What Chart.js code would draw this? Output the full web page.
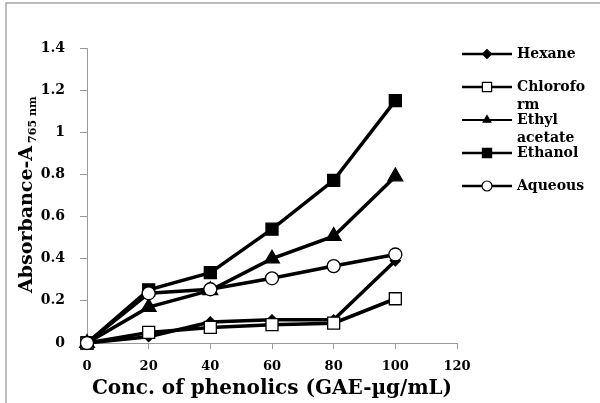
<!DOCTYPE html>
<html>
<head>
<meta charset="utf-8">
<script src="https://cdn.jsdelivr.net/npm/chart.js@4.4.0/dist/chart.umd.min.js"></script>
<style>
  html, body { margin: 0; padding: 0; background: #fff; }
</style>
</head>
<body>
<canvas id="phenolChart" width="600" height="403"></canvas>
<script>
// Conc. of phenolics (GAE-µg/mL) vs absorbance at 765 nm
const concentrations = [0, 20, 40, 60, 80, 100];
const hexane       = [0, 0.03, 0.10, 0.11, 0.11, 0.39];
const chloroform   = [0, 0.05, 0.074, 0.087, 0.094, 0.21];
const ethylAcetate = [0, 0.17, 0.25, 0.40, 0.507, 0.79];
const ethanol      = [0, 0.252, 0.334, 0.54, 0.772, 1.15];
const aqueous      = [0, 0.236, 0.255, 0.307, 0.365, 0.42];

const seriesNames = ['Hexane', 'Chloroform', 'Ethyl acetate', 'Ethanol', 'Aqueous'];
const legendLabels = [['Hexane'], ['Chlorofo', 'rm'], ['Ethyl', 'acetate'], ['Ethanol'], ['Aqueous']];
const xTicks = [0, 20, 40, 60, 80, 100, 120];
const yTicks = [0, 0.2, 0.4, 0.6, 0.8, 1, 1.2, 1.4];

const FONT = '"DejaVu Serif", "Liberation Serif", serif';
const AXIS_GREY = '#9a9a9a';

function points(values) {
    return values.map((v, i) => ({ x: concentrations[i], y: v }));
}

// marker look per series, also reused by the legend
const markers = [
    { style: 'rectRot',  radius: 5,   fill: '#000', legendRadius: 4.5, lineWidth: 3.5, legendLine: 2.5 },
    { style: 'rect',     radius: 8.5, fill: '#fff', legendRadius: 6.5, lineWidth: 3.5, legendLine: 2.5 },
    { style: 'triangle', radius: 8.5, fill: '#000', legendRadius: 4.5, lineWidth: 3.5, legendLine: 1.8 },
    { style: 'rect',     radius: 8.5, fill: '#000', legendRadius: 6.5, lineWidth: 3.5, legendLine: 2.5 },
    { style: 'circle',   radius: 6.5, fill: '#fff', legendRadius: 5,   lineWidth: 3.5, legendLine: 2.5 }
];
const drawOrder = [2, 1, 3, 4, 0];
const seriesValues = [hexane, chloroform, ethylAcetate, ethanol, aqueous];

const datasets = seriesNames.map((name, i) => ({
    label: name,
    data: points(seriesValues[i]),
    borderColor: '#000',
    borderWidth: markers[i].lineWidth,
    pointStyle: markers[i].style,
    pointRadius: markers[i].radius,
    pointHoverRadius: markers[i].radius,
    pointBackgroundColor: markers[i].fill,
    pointBorderColor: '#000',
    pointBorderWidth: 1.3,
    tension: 0,
    clip: false,
    order: drawOrder[i]
}));

// rotated y title with the 765 nm subscript, plus the frame edges
const yTitlePlugin = {
    id: 'yTitle',
    afterDraw(chart) {
        const ctx = chart.ctx;
        ctx.save();
        ctx.strokeStyle = '#a8a8a8';
        ctx.lineWidth = 1.5;
        ctx.beginPath();
        ctx.moveTo(6, 403);
        ctx.lineTo(6, 3);
        ctx.lineTo(600, 3);
        ctx.stroke();

        ctx.translate(27, 293);
        ctx.rotate(-Math.PI / 2);
        ctx.fillStyle = '#000';
        ctx.textBaseline = 'middle';
        ctx.textAlign = 'left';
        ctx.font = 'bold 19px ' + FONT;
        const main = 'Absorbance-A';
        ctx.fillText(main, 0, 0);
        const w = ctx.measureText(main).width;
        ctx.font = 'bold 11px ' + FONT;
        ctx.fillText('765 nm', w + 3, 6);
        ctx.restore();
    }
};

// legend to the right of the plot
const sideLegend = {
    id: 'sideLegend',
    afterDraw(chart) {
        const ctx = chart.ctx;
        const x0 = 462, x1 = 512, tx = 517;
        ctx.save();
        legendLabels.forEach((lines, i) => {
            const y = 54 + i * 33;
            const m = markers[i];
            ctx.strokeStyle = '#000';
            ctx.lineWidth = m.legendLine;
            ctx.beginPath();
            ctx.moveTo(x0, y);
            ctx.lineTo(x1, y);
            ctx.stroke();
            ctx.fillStyle = m.fill;
            ctx.lineWidth = 1.2;
            Chart.helpers.drawPoint(ctx, {
                pointStyle: m.style,
                radius: m.legendRadius,
                rotation: 0,
                borderWidth: 1.2
            }, (x0 + x1) / 2, y);
            ctx.fillStyle = '#000';
            ctx.font = 'bold 14px ' + FONT;
            ctx.textBaseline = 'middle';
            ctx.textAlign = 'left';
            lines.forEach((t, k) => ctx.fillText(t, tx, y + k * 18));
        });
        ctx.restore();
    }
};

new Chart(document.getElementById('phenolChart'), {
    type: 'scatter',
    data: { datasets: datasets },
    options: {
        responsive: false,
        animation: false,
        showLine: true,
        layout: { padding: { left: 0, right: 143, top: 48, bottom: 0 } },
        plugins: {
            legend: { display: false },
            tooltip: { enabled: false }
        },
        scales: {
            x: {
                type: 'linear',
                min: 0,
                max: 120,
                afterFit(scale) { scale.height = 60; },
                afterBuildTicks(scale) { scale.ticks = xTicks.map(v => ({ value: v })); },
                border: { display: true, color: AXIS_GREY, width: 1 },
                grid: { drawOnChartArea: false, drawTicks: true, tickLength: 6, color: AXIS_GREY },
                ticks: {
                    padding: 10,
                    color: '#000',
                    font: { family: FONT, size: 13, weight: 'bold' }
                },
                title: {
                    display: true,
                    text: 'Conc. of phenolics (GAE-µg/mL)',
                    color: '#000',
                    padding: { top: 0, bottom: 2 },
                    font: { family: FONT, size: 20, weight: 'bold' }
                }
            },
            y: {
                type: 'linear',
                min: 0,
                max: 1.4,
                afterFit(scale) { scale.width = 87; },
                afterBuildTicks(scale) { scale.ticks = yTicks.map(v => ({ value: v })); },
                border: { display: true, color: AXIS_GREY, width: 1 },
                grid: { drawOnChartArea: false, drawTicks: true, tickLength: 7, color: AXIS_GREY },
                ticks: {
                    padding: 15,
                    color: '#000',
                    font: { family: FONT, size: 14, weight: 'bold' },
                    callback: v => String(Math.round(v * 10) / 10)
                }
            }
        }
    },
    plugins: [yTitlePlugin, sideLegend]
});
</script>
</body>
</html>
